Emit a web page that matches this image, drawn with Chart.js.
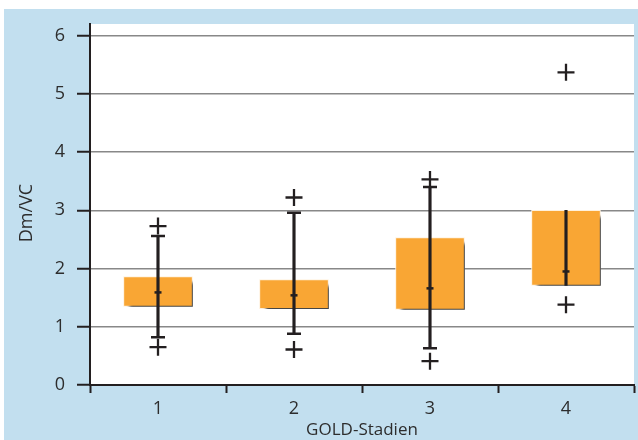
<!DOCTYPE html>
<html>
<head>
<meta charset="utf-8">
<script src="https://cdn.jsdelivr.net/npm/chart.js@4.4.1/dist/chart.umd.min.js"></script>
<style>
  html, body { margin: 0; padding: 0; background: #ffffff; }
  canvas { display: block; }
</style>
</head>
<body>
<canvas id="chart" width="638" height="440"></canvas>
<script>
// GOLD stages on the x axis
const categories = ['1', '2', '3', '4'];
// Box limits (25th / 75th percentile) and median of Dm/VC
const q1Values = [1.35, 1.31, 1.30, 1.71];
const q3Values = [1.86, 1.81, 2.53, 3.00];
const medianValues = [1.59, 1.54, 1.66, 1.95];
// Whisker ends
const whiskerLow = [0.82, 0.88, 0.63, 1.71];
const whiskerHigh = [2.56, 2.96, 3.40, 3.00];
// Caps are drawn only where the whisker leaves the box
const capLow = [0.82, 0.88, 0.63, null];
const capHigh = [2.56, 2.96, 3.40, null];
// Outliers per stage
const outlierCats = ['1', '1', '2', '2', '3', '3', '4', '4'];
const outlierValues = [2.73, 0.65, 3.22, 0.61, 3.53, 0.41, 5.37, 1.38];
// Y axis ticks
const yTicks = [0, 1, 2, 3, 4, 5, 6];

const INK = '#231f20';
const TEXT = '#2d2d2d';
const FONT = "'Open Sans', 'DejaVu Sans', sans-serif";

const panelPlugin = {
  id: 'panel',
  beforeDraw(chart) {
    const { ctx, chartArea: a } = chart;
    ctx.save();
    ctx.fillStyle = '#ffffff';
    ctx.fillRect(0, 0, chart.width, chart.height);
    ctx.fillStyle = '#c2dfef';
    ctx.fillRect(4, 9, chart.width - 4, chart.height - 9);
    ctx.fillStyle = '#ffffff';
    ctx.fillRect(a.left, a.top, a.right - a.left, a.bottom - a.top);
    ctx.restore();
  },
  afterDraw(chart) {
    // rotated y axis title
    const { ctx } = chart;
    ctx.save();
    ctx.translate(27, 213);
    ctx.rotate(-Math.PI / 2);
    ctx.fillStyle = TEXT;
    ctx.font = '18px ' + FONT;
    ctx.textAlign = 'center';
    ctx.textBaseline = 'middle';
    ctx.fillText('Dm/VC', 0, 0);
    ctx.restore();
  }
};

// soft drop shadow behind the boxes
const shadowPlugin = {
  id: 'boxShadow',
  beforeDatasetDraw(chart, args) {
    if (chart.data.datasets[args.index].id === 'boxes') {
      const ctx = chart.ctx;
      ctx.save();
      ctx.shadowColor = 'rgba(60,60,60,0.95)';
      ctx.shadowBlur = 3;
      ctx.shadowOffsetX = 6;
      ctx.shadowOffsetY = 6;
    }
  },
  afterDatasetDraw(chart, args) {
    if (chart.data.datasets[args.index].id === 'boxes') {
      chart.ctx.restore();
    }
  }
};

const boxData = categories.map((c, i) => [q1Values[i], q3Values[i]]);
const whiskerData = categories.map((c, i) => [whiskerLow[i], whiskerHigh[i]]);
const outlierData = outlierCats.map((c, i) => ({ x: c, y: outlierValues[i] }));

new Chart(document.getElementById('chart'), {
  type: 'bar',
  data: {
    labels: categories,
    datasets: [
      {
        id: 'boxes',
        type: 'bar',
        data: boxData,
        backgroundColor: '#f9a634',
        borderColor: '#fff1dc',
        borderWidth: 1,
        borderSkipped: false,
        barThickness: 69,
        grouped: false,
        order: 5
      },
      {
        type: 'bar',
        data: whiskerData,
        backgroundColor: INK,
        borderWidth: 0,
        barThickness: 2.5,
        grouped: false,
        order: 4
      },
      {
        type: 'line',
        data: capLow,
        showLine: false,
        pointStyle: 'line',
        pointRadius: 7,
        pointHoverRadius: 7,
        pointBorderWidth: 2.5,
        pointBorderColor: INK,
        order: 3
      },
      {
        type: 'line',
        data: capHigh,
        showLine: false,
        pointStyle: 'line',
        pointRadius: 7,
        pointHoverRadius: 7,
        pointBorderWidth: 2.5,
        pointBorderColor: INK,
        order: 3
      },
      {
        type: 'line',
        data: medianValues,
        showLine: false,
        pointStyle: 'line',
        pointRadius: 3.5,
        pointHoverRadius: 3.5,
        pointBorderWidth: 2.5,
        pointBorderColor: INK,
        order: 2
      },
      {
        type: 'line',
        data: outlierData,
        showLine: false,
        pointStyle: 'cross',
        pointRadius: 8.5,
        pointHoverRadius: 8.5,
        pointBorderWidth: 2.3,
        pointBorderColor: INK,
        order: 1
      }
    ]
  },
  options: {
    responsive: false,
    animation: false,
    devicePixelRatio: 1,
    layout: { autoPadding: false, padding: { top: 24, right: 4, left: 0, bottom: 0 } },
    plugins: {
      legend: { display: false },
      tooltip: { enabled: false }
    },
    scales: {
      x: {
        type: 'category',
        offset: true,
        afterFit(scale) { scale.height = 55; },
        grid: {
          offset: true,
          drawOnChartArea: false,
          tickLength: 8,
          tickColor: INK,
          tickWidth: 2
        },
        border: { color: INK, width: 2 },
        ticks: {
          color: TEXT,
          padding: 5,
          font: { family: FONT, size: 18 }
        },
        title: {
          display: true,
          text: 'GOLD-Stadien',
          color: TEXT,
          padding: { top: 0, bottom: 0 },
          font: { family: FONT, size: 17 }
        }
      },
      y: {
        min: 0,
        max: 6.2,
        afterFit(scale) { scale.width = 90; },
        afterBuildTicks(scale) { scale.ticks = yTicks.map(v => ({ value: v })); },
        grid: {
          color: ctx => (ctx.tick && ctx.tick.value === 0 ? 'rgba(0,0,0,0)' : '#888888'),
          lineWidth: 1.5,
          tickLength: 13,
          tickColor: INK,
          tickWidth: 2
        },
        border: { color: INK, width: 2 },
        ticks: {
          color: TEXT,
          padding: 12,
          font: { family: FONT, size: 18 }
        }
      }
    }
  },
  plugins: [panelPlugin, shadowPlugin]
});
</script>
</body>
</html>
